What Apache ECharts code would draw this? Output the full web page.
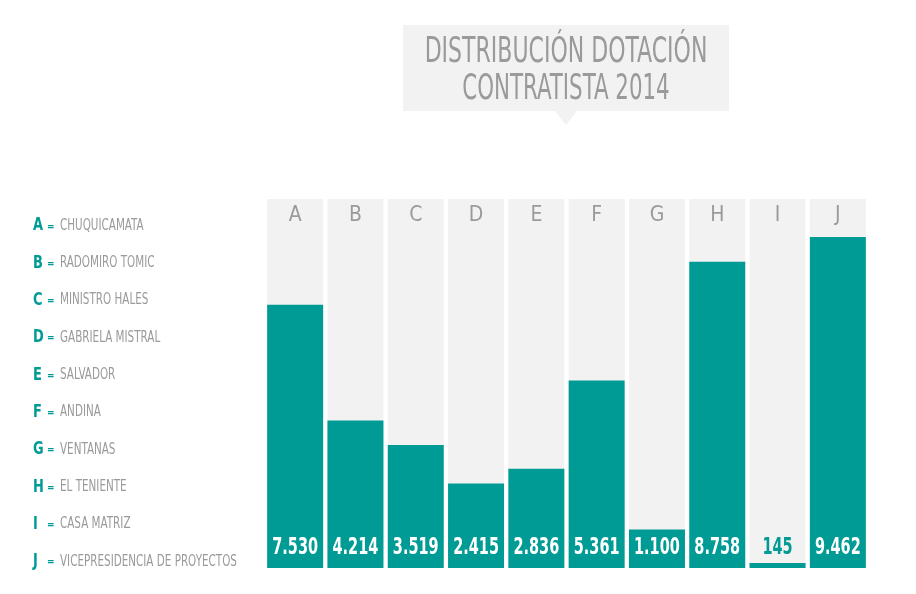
<!DOCTYPE html>
<html>
<head>
<meta charset="utf-8">
<script src="https://cdn.jsdelivr.net/npm/echarts@6/dist/echarts.min.js"></script>
<style>
html,body{margin:0;padding:0;background:#fff;}
#chart{width:916px;height:594px;}
</style>
</head>
<body>
<div id="chart"></div>
<script>
var letters = ['A','B','C','D','E','F','G','H','I','J'];
var names = ['CHUQUICAMATA','RADOMIRO TOMIC','MINISTRO HALES','GABRIELA MISTRAL','SALVADOR','ANDINA','VENTANAS','EL TENIENTE','CASA MATRIZ','VICEPRESIDENCIA DE PROYECTOS'];
var values = [7530, 4214, 3519, 2415, 2836, 5361, 1100, 8758, 145, 9462];
var titleLines = ['DISTRIBUCIÓN DOTACIÓN', 'CONTRATISTA 2014'];

var TEAL = '#009b94';
var GRAY_BG = '#f2f2f2';
var TXT_GRAY = '#9a9a9a';
var FONT = '"Liberation Sans Narrow","DejaVu Sans Condensed","Roboto",sans-serif';

function fmt(v){ return String(v).replace(/\B(?=(\d{3})+(?!\d))/g, '.'); }

var chart = echarts.init(document.getElementById('chart'));

var graphics = [
  { type:'rect', shape:{x:403, y:25, width:326, height:86}, style:{fill:GRAY_BG}, silent:true },
  { type:'polygon', shape:{points:[[555,111],[577,111],[566,125]]}, style:{fill:GRAY_BG}, silent:true },
  { type:'text', x:566, y:53, scaleX:0.68, style:{text:titleLines[0], fill:TXT_GRAY, font:'36px '+FONT, textAlign:'center', textVerticalAlign:'middle'} },
  { type:'text', x:566, y:90, scaleX:0.66, style:{text:titleLines[1], fill:TXT_GRAY, font:'36px '+FONT, textAlign:'center', textVerticalAlign:'middle'} }
];
for (var i = 0; i < letters.length; i++) {
  var y = 226 + i * 37.3;
  graphics.push({ type:'text', x:33, y:y, scaleX:0.85, style:{text:letters[i], fill:TEAL, font:'bold 17px '+FONT, textVerticalAlign:'middle'} });
  graphics.push({ type:'text', x:47, y:y+1, style:{text:'=', fill:TEAL, font:'bold 10px '+FONT, textVerticalAlign:'middle'} });
  graphics.push({ type:'text', x:60, y:y, scaleX:0.77, style:{text:names[i], fill:TXT_GRAY, font:'15px '+FONT, textVerticalAlign:'middle'} });
}

chart.setOption({
  animation:false,
  backgroundColor:'#fff',
  grid:{left:265, right:48, top:199, bottom:26},
  xAxis:{
    type:'category', data:letters, position:'top', z:20,
    axisLine:{show:false}, axisTick:{show:false}, splitLine:{show:false},
    axisLabel:{margin:-27, color:TXT_GRAY, fontSize:21, fontFamily:FONT}
  },
  yAxis:{ type:'value', min:0, max:10550, show:false, splitLine:{show:false} },
  series:[{
    type:'bar',
    data:values,
    barWidth:56,
    showBackground:true,
    backgroundStyle:{color:GRAY_BG},
    itemStyle:{color:TEAL}
  },{
    type:'custom',
    data:values.map(function(v, i){ return [i, v]; }),
    encode:{x:0, y:1},
    z:10,
    renderItem:function(params, api){
      var v = api.value(1);
      var pt = api.coord([api.value(0), 0]);
      return {
        type:'text', x:pt[0], y:pt[1]-8, scaleX:0.7,
        style:{
          text:fmt(v), fill: v < 1000 ? TEAL : '#fff',
          font:'bold 23px '+FONT, textAlign:'center', textVerticalAlign:'bottom'
        }
      };
    }
  }],
  graphic:graphics
});
</script>
</body>
</html>
